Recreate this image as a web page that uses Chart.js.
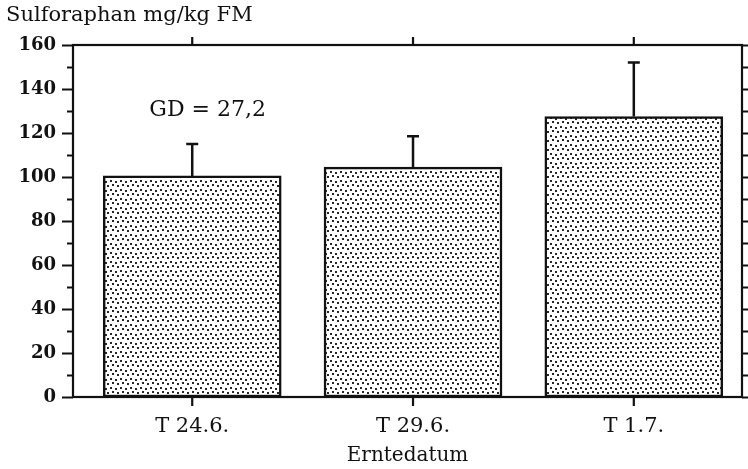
<!DOCTYPE html>
<html>
<head>
<meta charset="utf-8">
<script src="https://cdn.jsdelivr.net/npm/chart.js@4.4.1/dist/chart.umd.min.js"></script>
<style>
  html, body { margin: 0; padding: 0; background: #fff; }
  #wrap { width: 748px; height: 469px; position: relative; }
</style>
</head>
<body>
<div id="wrap"><canvas id="chartSulfo"></canvas></div>
<script>
// Chart data
const categories = ['T 24.6.', 'T 29.6.', 'T 1.7.'];
const sulforaphan = [100.5, 104.5, 127.5];
const errorUpper = [115, 118.5, 152];
const yTickValues = [0, 20, 40, 60, 80, 100, 120, 140, 160];
const yAxisTitle = 'Sulforaphan mg/kg FM';
const xAxisTitle = 'Erntedatum';
const gdLabel = 'GD = 27,2';
const gdPosition = [1.07, 130.5];

const INK = '#111';
const SERIF = 'DejaVu Serif';

// Stipple fill like the printed original
function makeStipple() {
    const c = document.createElement('canvas');
    c.width = 10;
    c.height = 9;
    const g = c.getContext('2d');
    g.fillStyle = '#fff';
    g.fillRect(0, 0, 10, 9);
    g.fillStyle = '#262626';
    const dots = [[0, 0], [5, 1], [2, 4], [7, 5]];
    dots.forEach(function (d) {
        g.fillRect(d[0], d[1], 2, 2);
    });
    return g.createPattern(c, 'repeat');
}

// Frame, tick marks, error bars and text labels
const framePlugin = {
    id: 'frame',
    afterDatasetsDraw(chart) {
        const { ctx, chartArea: a, scales } = chart;
        const x = scales.x, y = scales.y;
        ctx.save();
        ctx.strokeStyle = INK;
        ctx.lineWidth = 2.2;
        ctx.strokeRect(a.left, a.top, a.right - a.left, a.bottom - a.top);

        ctx.beginPath();
        for (let v = 0; v <= 160; v += 10) {
            const py = Math.round(y.getPixelForValue(v)) + 0.5;
            const len = v % 20 === 0 ? 11 : 6;
            ctx.moveTo(a.left - len, py);
            ctx.lineTo(a.left, py);
            ctx.moveTo(a.right, py);
            ctx.lineTo(a.right + 6, py);
        }
        categories.forEach(function (_, i) {
            const px = x.getPixelForValue(i + 1);
            ctx.moveTo(px, a.top);
            ctx.lineTo(px, a.top - 8);
            ctx.moveTo(px, a.bottom);
            ctx.lineTo(px, a.bottom + 9);
        });
        ctx.stroke();

        // error bars (upper only)
        ctx.lineWidth = 2.5;
        ctx.beginPath();
        errorUpper.forEach(function (e, i) {
            const px = x.getPixelForValue(i + 1);
            const top = y.getPixelForValue(e);
            ctx.moveTo(px, y.getPixelForValue(sulforaphan[i]));
            ctx.lineTo(px, top);
            ctx.moveTo(px - 6, top);
            ctx.lineTo(px + 6, top);
        });
        ctx.stroke();

        ctx.fillStyle = INK;
        ctx.font = '22px "' + SERIF + '"';
        ctx.textAlign = 'center';
        ctx.textBaseline = 'middle';
        ctx.fillText(gdLabel, x.getPixelForValue(gdPosition[0]), y.getPixelForValue(gdPosition[1]));

        ctx.textAlign = 'left';
        ctx.textBaseline = 'alphabetic';
        ctx.font = '21px "' + SERIF + '"';
        ctx.fillText(yAxisTitle, 6, 21);
        ctx.restore();
    }
};

function initChartSulfo() {
    const ctx = document.getElementById('chartSulfo');

    new Chart(ctx, {
        type: 'bar',
        data: {
            datasets: [{
                data: sulforaphan.map((v, i) => ({ x: i + 1, y: v })),
                backgroundColor: makeStipple(),
                borderColor: INK,
                borderWidth: 2.5,
                borderSkipped: false,
                barThickness: 178
            }]
        },
        options: {
            responsive: true,
            maintainAspectRatio: false,
            animation: false,
            layout: {
                padding: { top: 45, right: 6, left: 0, bottom: 0 }
            },
            plugins: {
                legend: { display: false },
                tooltip: { enabled: false }
            },
            scales: {
                x: {
                    type: 'linear',
                    offset: false,
                    min: 0.46,
                    max: 3.49,
                    afterBuildTicks: function (axis) {
                        axis.ticks = categories.map((_, i) => ({ value: i + 1 }));
                    },
                    afterFit: function (axis) { axis.height = 72; },
                    grid: { display: false, drawTicks: false },
                    border: { display: false },
                    ticks: {
                        color: INK,
                        padding: 17,
                        autoSkip: false,
                        maxRotation: 0,
                        font: { family: SERIF, size: 21 },
                        callback: v => categories[v - 1]
                    },
                    title: {
                        display: true,
                        text: xAxisTitle,
                        color: INK,
                        padding: { top: 0, bottom: 1 },
                        font: { family: SERIF, size: 20 }
                    }
                },
                y: {
                    min: 0,
                    max: 160,
                    afterBuildTicks: function (axis) {
                        axis.ticks = yTickValues.map(v => ({ value: v }));
                    },
                    afterFit: function (axis) { axis.width = 73; },
                    grid: { display: false, drawTicks: false },
                    border: { display: false },
                    ticks: {
                        color: INK,
                        padding: 17,
                        font: { family: SERIF, size: 18, weight: 'bold' }
                    }
                }
            }
        },
        plugins: [framePlugin]
    });
}

document.addEventListener('DOMContentLoaded', function () {
    initChartSulfo();
});
</script>
</body>
</html>
